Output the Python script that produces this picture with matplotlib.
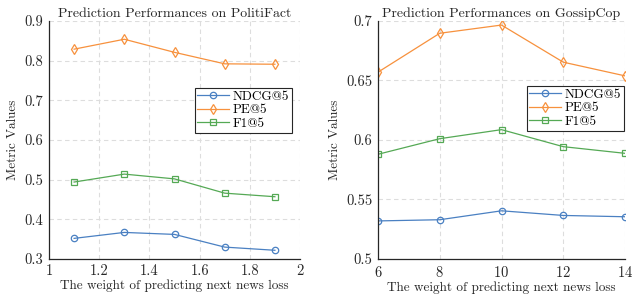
import numpy as np
import matplotlib
matplotlib.use("Agg")
import matplotlib.pyplot as plt

plt.rcParams['font.family'] = ['cmr10', 'DejaVu Serif']
plt.rcParams['axes.formatter.use_mathtext'] = True

# PolitiFact
pf_x = [1.1, 1.3, 1.5, 1.7, 1.9]
pf_ndcg = [0.352, 0.367, 0.362, 0.330, 0.322]
pf_pe = [0.829, 0.854, 0.821, 0.792, 0.791]
pf_f1 = [0.494, 0.514, 0.502, 0.466, 0.457]

# GossipCop
gc_x = [6, 8, 10, 12, 14]
gc_ndcg = [0.532, 0.533, 0.5405, 0.5366, 0.5355]
gc_pe = [0.657, 0.6897, 0.6966, 0.6654, 0.6539]
gc_f1 = [0.588, 0.6011, 0.6087, 0.5944, 0.5888]

labels = ['NDCG@5', 'PE@5', 'F1@5']
colors = ['#4a80c2', '#f7913d', '#55a955']
markers = ['o', 'd', 's']

fig = plt.figure(figsize=(6.34, 3.02), dpi=100)
ax1 = fig.add_axes([49/634, 1-259/302, 251/634, 238/302])
ax2 = fig.add_axes([378/634, 1-259/302, 247/634, 238/302])


def draw(ax, x, series, title, xlim, xticks, ylim, yticks, legend_anchor):
    for ys, lab, c, m in zip(series, labels, colors, markers):
        ax.plot(x, ys, color=c, marker=m, markersize=4.6, markerfacecolor='none',
                markeredgewidth=0.9, linewidth=0.9, label=lab)
    ax.set_xlim(*xlim)
    ax.set_ylim(*ylim)
    ax.set_xticks(xticks)
    ax.set_yticks(yticks)
    ax.grid(True, linestyle=(0, (4, 3)), color='#dddddd', linewidth=0.8)
    ax.set_axisbelow(True)
    for s in ['top', 'right']:
        ax.spines[s].set_visible(False)
    for s in ['left', 'bottom']:
        ax.spines[s].set_linewidth(0.9)
        ax.spines[s].set_color('#262626')
    ax.tick_params(direction='in', length=0, pad=4, labelsize=10.5, colors='#262626')
    ax.set_title(title, fontsize=10, pad=3, color='#262626')
    ax.set_xlabel('The weight of predicting next news loss', fontsize=9.5, labelpad=1, color='#262626')
    ax.set_ylabel('Metric Values', fontsize=9.5, labelpad=4, color='#262626')
    leg = ax.legend(loc='upper right', bbox_to_anchor=legend_anchor, fontsize=9.5,
                    fancybox=False, framealpha=1, edgecolor='#262626',
                    borderpad=0.2, labelspacing=0.1, handlelength=2.4,
                    handletextpad=0.3, borderaxespad=0)
    leg.get_frame().set_linewidth(0.8)


draw(ax1, pf_x, [pf_ndcg, pf_pe, pf_f1], 'Prediction Performances on PolitiFact',
     (1, 2), [1, 1.2, 1.4, 1.6, 1.8, 2], (0.3, 0.9), np.arange(0.3, 0.91, 0.1),
     ((292-49)/251, (259-88)/238))
ax1.set_xticklabels(['1', '1.2', '1.4', '1.6', '1.8', '2'])
ax1.set_yticklabels(['0.3', '0.4', '0.5', '0.6', '0.7', '0.8', '0.9'])

draw(ax2, gc_x, [gc_ndcg, gc_pe, gc_f1], 'Prediction Performances on GossipCop',
     (6, 14), [6, 8, 10, 12, 14], (0.5, 0.7), [0.5, 0.55, 0.6, 0.65, 0.7],
     ((624-378)/247, (259-86)/238))
ax2.set_yticklabels(['0.5', '0.55', '0.6', '0.65', '0.7'])

fig.savefig('out.png', dpi=100)
